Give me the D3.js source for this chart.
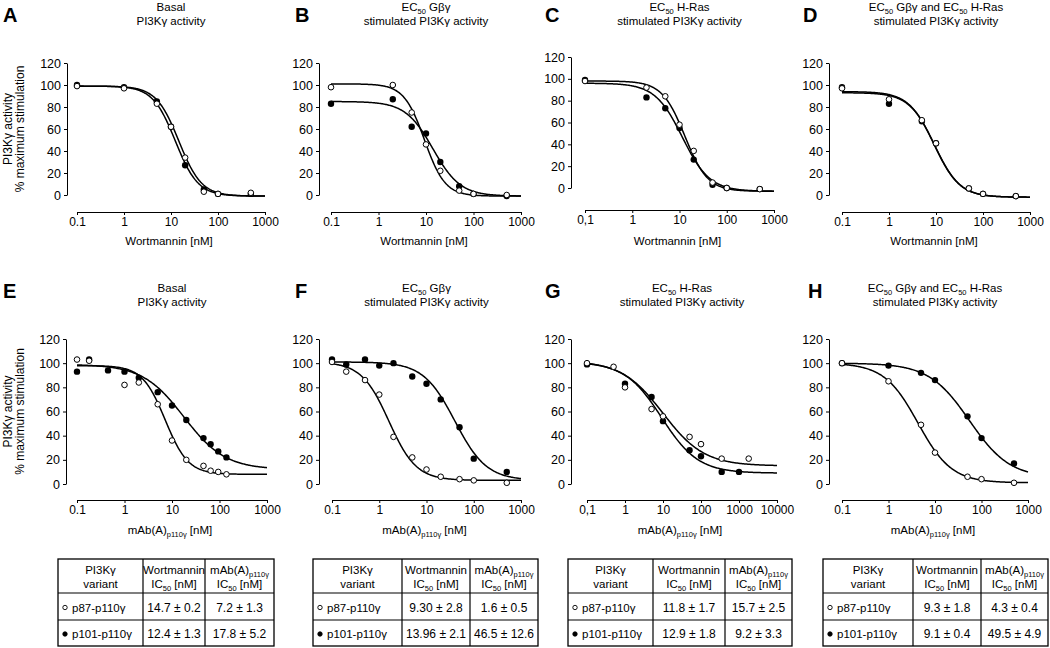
<!DOCTYPE html>
<html><head><meta charset="utf-8">
<script src="https://cdn.jsdelivr.net/npm/d3@7"></script>
<style>
body{margin:0;background:#fff}
svg{display:block}
text{font-family:"Liberation Sans",Arial,sans-serif;fill:#000}
</style>
</head><body>
<svg id="c" width="1050" height="648"></svg>
<script>
// ---------------- DATA ----------------
const panelLetters = ["A","B","C","D","E","F","G","H"];
const titleLine1 = ["Basal","EC_{50} Gβγ","EC_{50} H-Ras","EC_{50} Gβγ and EC_{50} H-Ras",
                    "Basal","EC_{50} Gβγ","EC_{50} H-Ras","EC_{50} Gβγ and EC_{50} H-Ras"];
const titleLine2 = ["PI3Kγ activity","stimulated PI3Kγ activity","stimulated PI3Kγ activity","stimulated PI3Kγ activity",
                    "PI3Kγ activity","stimulated PI3Kγ activity","stimulated PI3Kγ activity","stimulated PI3Kγ activity"];
const xTitles = ["Wortmannin [nM]","Wortmannin [nM]","Wortmannin [nM]","Wortmannin [nM]",
                 "mAb(A)_{p110γ} [nM]","mAb(A)_{p110γ} [nM]","mAb(A)_{p110γ} [nM]","mAb(A)_{p110γ} [nM]"];
const yTitle1 = "PI3Kγ activity";
const yTitle2 = "% maximum stimulation";
const yTicks = [0,20,40,60,80,100,120];
const xTicks3 = [0.1,1,10,100,1000];
const xTicks4 = [0.1,1,10,100,1000,10000];
const xLabelsDot = ["0.1","1","10","100","1000"];
const xLabelsComma = ["0,1","1","10","100","1000"];
const xLabelsComma4 = ["0,1","1","10","100","1000","10000"];
const xMax = [1000,1000,1000,1000,1000,1000,10000,1000];

// Panel A (Wortmannin, basal)
const concA = [0.1,1,5,10,20,50,100,500];
const p87A  = [99,97,83,62,34,3,1,2];
const p101A = [100,98,85,62,27,5,1,1];
// Panel B
const concB = [0.1,2,5,10,20,50,100,500];
const p87B  = [98,100,75,46,22,4,1,0];
const p101B = [83,87,62,56,30,8,1,-1];
// Panel C
const concC = [0.1,2,5,10,20,50,100,500];
const p87C  = [98,92,84,58,34,5,0,-1];
const p101C = [99,83,73,55,26,3,0,-1];
// Panel D
const concD = [0.1,1,5,10,50,100,500];
const p87D  = [97,87,68,47,6,1,-1];
const p101D = [98,83,67,47,6,1,-1];
// Panel E (mAb, basal)
const concE87  = [0.1,0.18,1,2,5,10,20,46,65,94,140];
const p87E     = [103,102,82,84,66,36,20,15,11,10,8];
const concE101 = [0.1,0.18,0.45,1,2,5,10,20,46,65,94,140];
const p101E    = [93,103,94,93,88,76,65,53,38,33,27,22];
// Panel F
const concF = [0.1,0.2,0.5,1,2,5,10,20,50,100,500];
const p87F  = [101,93,86,74,39,22,12,6,4,3,1];
const p101F = [103,99,103,98,100,89,83,70,47,21,10];
// Panel G
const concG87  = [0.1,0.5,1,5,10,50,100,350,1800];
const p87G     = [100,97,80,62,56,39,33,21,21];
const concG101 = [0.1,1,5,10,50,100,350,1000];
const p101G    = [99,83,72,52,28,23,10,10];
// Panel H
const concH = [0.1,1,5,10,50,100,500];
const p87H  = [100,85,49,26,6,4,1];
const p101H = [100,98,92,86,56,38,17];

// fitted dose-response parameters (top, bottom, IC50, Hill) per panel A..H
const fitTop87  = [99,101,98,93,98,101,102,100];
const fitBot87  = [-1,-1,-3,-2,8,3,15,1];
const fitIC87   = [14.7,9.3,13,9.3,7.2,1.6,10,4.3];
const fitHill87 = [1.8,2.0,1.8,1.6,1.8,1.5,0.8,1.2];
const fitTop101  = [99,85,96,94,99,101,101,100];
const fitBot101  = [-1,-1,-3,-2,12,3,9,5];
const fitIC101   = [12.4,14,11.5,9.1,17.8,40,9.2,55];
const fitHill101 = [1.8,1.5,1.5,1.6,1.0,1.3,0.9,1.0];

// tables
const tableHead1 = ["PI3Kγ","Wortmannin","mAb(A)_{p110γ}"];
const tableHead2 = ["variant","IC_{50} [nM]","IC_{50} [nM]"];
const variants = ["p87-p110γ","p101-p110γ"];
const wortP87  = ["14.7 ± 0.2","9.30 ± 2.8","11.8 ± 1.7","9.3 ± 1.8"];
const wortP101 = ["12.4 ± 1.3","13.96 ± 2.1","12.9 ± 1.8","9.1 ± 0.4"];
const mabP87   = ["7.2 ± 1.3","1.6 ± 0.5","15.7 ± 2.5","4.3 ± 0.4"];
const mabP101  = ["17.8 ± 5.2","46.5 ± 12.6","9.2 ± 3.3","49.5 ± 4.9"];

// ---------------- LAYOUT ----------------
const series87  = [[concA,p87A],[concB,p87B],[concC,p87C],[concD,p87D],[concE87,p87E],[concF,p87F],[concG87,p87G],[concH,p87H]];
const series101 = [[concA,p101A],[concB,p101B],[concC,p101C],[concD,p101D],[concE101,p101E],[concF,p101F],[concG101,p101G],[concH,p101H]];
const xTickSets = [xTicks3,xTicks3,xTicks3,xTicks3,xTicks3,xTicks3,xTicks4,xTicks3];
const xLabelSets = [xLabelsDot,xLabelsDot,xLabelsComma,xLabelsDot,xLabelsDot,xLabelsDot,xLabelsComma4,xLabelsDot];

const L = [
  {yx:67, x0:77, x1:265, yTop:63, yBot:195, xay:212, letterX:3, letterY:22, t1:11, t2:25, xtY:245},
  {yx:319,x0:331,x1:521, yTop:63, yBot:195, xay:212, letterX:295, letterY:22, t1:11, t2:25, xtY:245},
  {yx:571,x0:585,x1:774, yTop:57, yBot:188, xay:210, letterX:545, letterY:22, t1:11, t2:25, xtY:245},
  {yx:829,x0:842,x1:1030,yTop:63, yBot:195, xay:212, letterX:803, letterY:22, t1:11, t2:25, xtY:245},
  {yx:66, x0:77, x1:267, yTop:339,yBot:484, xay:500, letterX:3, letterY:298, t1:292, t2:306, xtY:534},
  {yx:319,x0:332,x1:521, yTop:339,yBot:484, xay:500, letterX:295, letterY:298, t1:292, t2:306, xtY:534},
  {yx:571,x0:587,x1:777, yTop:339,yBot:484, xay:500, letterX:545, letterY:298, t1:292, t2:306, xtY:534},
  {yx:829,x0:842,x1:1028,yTop:339,yBot:484, xay:500, letterX:808, letterY:298, t1:292, t2:306, xtY:534}
];
const tableCols = [[58,143,205,274],[313,402,470,538],[568,653,725,792],[823,913,981,1048]];
const tableRows = [559,593,620,646];

const svg = d3.select("#c");

function rich(sel, str, size, subSize){
  const parts = str.split(/(_\{[^}]*\})/).filter(s=>s.length);
  let shifted = false;
  parts.forEach(p=>{
    if(p.startsWith("_{")){
      sel.append("tspan").attr("font-size",subSize).attr("dy", shifted?0:size*0.28).text(p.slice(2,-1));
      shifted = true;
    } else {
      sel.append("tspan").attr("font-size",size).attr("dy", shifted? -size*0.28:0).text(p);
      shifted = false;
    }
  });
  return sel;
}

function hill(c, top, bot, ic, h){ return bot + (top-bot)/(1+Math.pow(c/ic,h)); }

L.forEach((l,i)=>{
  const g = svg.append("g");
  const x = d3.scaleLog().domain([0.1,xMax[i]]).range([l.x0,l.x1]);
  const y = d3.scaleLinear().domain([0,120]).range([l.yBot,l.yTop]);

  // y axis
  const ya = g.append("g").attr("transform",`translate(${l.yx},0)`)
    .call(d3.axisLeft(y).tickValues(yTicks).tickSize(3).tickSizeOuter(0).tickPadding(3));
  ya.selectAll("text").attr("font-size",12.5).attr("font-family","Liberation Sans, Arial, sans-serif");
  ya.selectAll("path,line").attr("stroke","#000").attr("stroke-width",1);

  // x axis
  const xa = g.append("g").attr("transform",`translate(0,${l.xay})`)
    .call(d3.axisBottom(x).tickValues(xTickSets[i]).tickFormat((d,j)=>xLabelSets[i][j]).tickSize(3).tickSizeOuter(0).tickPadding(2));
  xa.selectAll("text").attr("font-size",12).attr("font-family","Liberation Sans, Arial, sans-serif");
  xa.selectAll("path,line").attr("stroke","#000").attr("stroke-width",1);

  // letters and titles
  g.append("text").attr("x",l.letterX).attr("y",l.letterY).attr("font-size",20).attr("font-weight","bold").text(panelLetters[i]);
  const cx = (l.x0+l.x1)/2;
  rich(g.append("text").attr("x",cx).attr("y",l.t1).attr("text-anchor","middle"), titleLine1[i], 11.5, 7.5);
  g.append("text").attr("x",cx).attr("y",l.t2).attr("text-anchor","middle").attr("font-size",11.5).text(titleLine2[i]);
  rich(g.append("text").attr("x",cx-2).attr("y",l.xtY).attr("text-anchor","middle"), xTitles[i], 11.5, 7.5);

  if(i===0 || i===4){
    const yc = (l.yTop+l.yBot)/2;
    g.append("text").attr("transform",`translate(12,${yc}) rotate(-90)`).attr("text-anchor","middle").attr("font-size",12).text(yTitle1);
    g.append("text").attr("transform",`translate(24,${yc}) rotate(-90)`).attr("text-anchor","middle").attr("font-size",12).text(yTitle2);
  }

  // fitted curves
  const samples = d3.range(0,241).map(k=>Math.pow(10, Math.log10(0.1) + k/240*(Math.log10(xMax[i])-Math.log10(0.1))));
  const line = d3.line().x(d=>x(d[0])).y(d=>y(d[1]));
  const c87 = samples.map(c=>[c,hill(c,fitTop87[i],fitBot87[i],fitIC87[i],fitHill87[i])]);
  const c101 = samples.map(c=>[c,hill(c,fitTop101[i],fitBot101[i],fitIC101[i],fitHill101[i])]);
  [c87,c101].forEach(cv=>g.append("path").attr("d",line(cv)).attr("fill","none").attr("stroke","#000").attr("stroke-width",1.5));

  // points
  const [cf,vf] = series101[i];
  g.selectAll(null).data(cf.map((c,k)=>[c,vf[k]])).enter().append("circle")
    .attr("cx",d=>x(d[0])).attr("cy",d=>y(d[1])).attr("r",3.2).attr("fill","#000");
  const [co,vo] = series87[i];
  g.selectAll(null).data(co.map((c,k)=>[c,vo[k]])).enter().append("circle")
    .attr("cx",d=>x(d[0])).attr("cy",d=>y(d[1])).attr("r",2.8).attr("fill","#fff").attr("stroke","#000").attr("stroke-width",1);
});

// tables
tableCols.forEach((cols,t)=>{
  const g = svg.append("g");
  const [y0,y1,y2,y3] = tableRows;
  g.append("rect").attr("x",cols[0]).attr("y",y0).attr("width",cols[3]-cols[0]).attr("height",y3-y0)
    .attr("fill","none").attr("stroke","#000").attr("stroke-width",1.3);
  [cols[1],cols[2]].forEach(cx=>g.append("line").attr("x1",cx).attr("x2",cx).attr("y1",y0).attr("y2",y3).attr("stroke","#000").attr("stroke-width",1.2));
  [y1,y2].forEach(yy=>g.append("line").attr("x1",cols[0]).attr("x2",cols[3]).attr("y1",yy).attr("y2",yy).attr("stroke","#000").attr("stroke-width",1.2));
  for(let c=0;c<3;c++){
    const mx = (cols[c]+cols[c+1])/2;
    rich(g.append("text").attr("x",mx).attr("y",574).attr("text-anchor","middle"), tableHead1[c], 11.5, 7.5);
    rich(g.append("text").attr("x",mx).attr("y",588).attr("text-anchor","middle"), tableHead2[c], 11.5, 7.5);
  }
  const rowsY = [(y1+y2)/2, (y2+y3)/2];
  const vals = [[wortP87[t],mabP87[t]],[wortP101[t],mabP101[t]]];
  rowsY.forEach((ry,r)=>{
    g.append("circle").attr("cx",cols[0]+7).attr("cy",ry+1).attr("r",2.2)
      .attr("fill", r===0?"#fff":"#000").attr("stroke","#000").attr("stroke-width",0.9);
    g.append("text").attr("x",cols[0]+14).attr("y",ry+5).attr("font-size",11.5).text(variants[r]);
    for(let c=0;c<2;c++){
      g.append("text").attr("x",(cols[c+1]+cols[c+2])/2).attr("y",ry+5).attr("text-anchor","middle")
        .attr("font-family","Lato, 'Open Sans', sans-serif").attr("font-size",12).text(vals[r][c]);
    }
  });
});
</script>
</body></html>
